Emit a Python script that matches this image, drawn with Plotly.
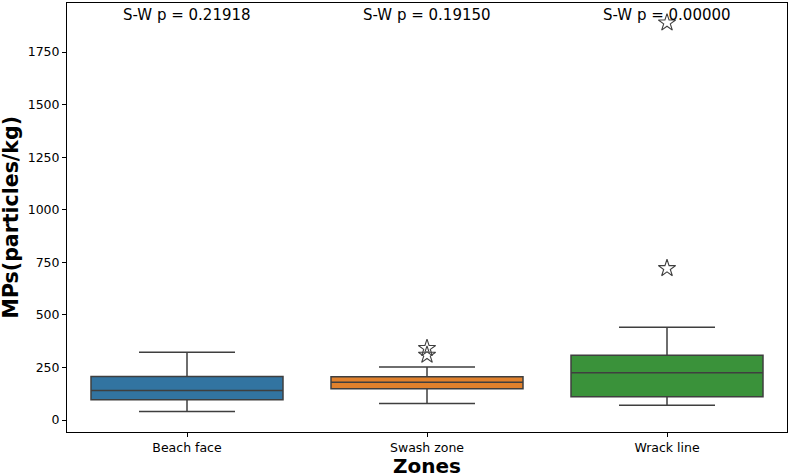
import plotly.graph_objects as go

zones = ["Beach face", "Swash zone", "Wrack line"]
q1 = [96, 149, 111]
median = [140, 179, 225]
q3 = [207, 206, 308]
lower_whisker = [40, 78, 70]
upper_whisker = [322, 252, 441]
outlier_zone = ["Swash zone", "Swash zone", "Wrack line", "Wrack line"]
outlier_value = [341, 309, 1889, 721]
sw_pvalues = ["0.21918", "0.19150", "0.00000"]
colors = ["#3274a1", "#e1812c", "#3a923a"]
yticks = [0, 250, 500, 750, 1000, 1250, 1500, 1750]

FONT = "DejaVu Sans"
EDGE = "#3f3f3f"

fig = go.Figure()
for i, z in enumerate(zones):
    fig.add_trace(go.Box(
        x=[z], q1=[q1[i]], median=[median[i]], q3=[q3[i]],
        lowerfence=[lower_whisker[i]], upperfence=[upper_whisker[i]],
        fillcolor=colors[i], line=dict(color=EDGE, width=1.5),
        width=0.8, whiskerwidth=0.5, boxpoints=False, showlegend=False,
        hoverinfo="skip",
    ))

fig.add_trace(go.Scatter(
    x=outlier_zone, y=outlier_value, mode="markers",
    marker=dict(symbol="star-open", size=13, color=EDGE, line=dict(width=1.1, color=EDGE)),
    showlegend=False, hoverinfo="skip",
))

for z, p in zip(zones, sw_pvalues):
    fig.add_annotation(x=z, y=1, xref="x", yref="paper", yanchor="top", yshift=-1,
                       text=f"S-W p = {p}", showarrow=False,
                       font=dict(family=FONT, size=15, color="black"))

# axis titles
fig.add_annotation(x=0.5, y=0, xref="paper", yref="paper", yanchor="middle", yshift=-34,
                   text="<b>Zones</b>", showarrow=False,
                   font=dict(family=FONT, size=20, color="black"))
fig.add_annotation(x=0, y=0.5, xref="paper", yref="paper", xanchor="center", xshift=-57,
                   text="<b>MPs(particles/kg)</b>", textangle=-90, showarrow=False,
                   font=dict(family=FONT, size=20.5, color="black"))

fig.update_layout(
    width=789, height=475,
    margin=dict(l=67, r=2, t=3, b=43),
    paper_bgcolor="white", plot_bgcolor="white",
    font=dict(family=FONT, color="black"),
)
fig.update_xaxes(
    type="category", categoryorder="array", categoryarray=zones,
    range=[-0.5, 2.5], automargin=False,
    showline=True, linecolor="black", linewidth=1, mirror=True,
    ticks="outside", ticklen=4, tickcolor="black", showgrid=False, zeroline=False,
    tickfont=dict(family=FONT, size=12.5, color="black"),
)
fig.update_yaxes(
    range=[-57, 1983], tickvals=yticks, automargin=False,
    showline=True, linecolor="black", linewidth=1, mirror=True,
    ticks="outside", ticklen=4, tickcolor="black", showgrid=False, zeroline=False,
    tickfont=dict(family=FONT, size=12.5, color="black"),
)

fig.write_html("out.html", config={"displayModeBar": False},
               post_script="document.body.style.margin='0';document.body.style.padding='0';")
